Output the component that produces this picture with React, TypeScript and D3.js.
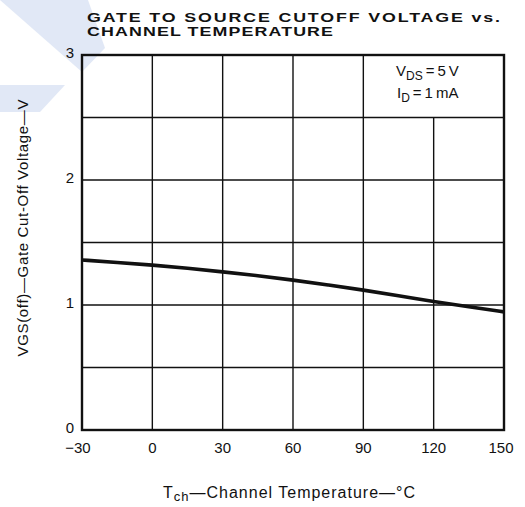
import * as d3 from 'd3';

// channel temperature (°C) vs gate cut-off voltage (V)
const temps = [-30, -15, 0, 15, 30, 45, 60, 75, 90, 105, 120, 135, 150];
const vgsOff = [1.36, 1.34, 1.32, 1.295, 1.265, 1.235, 1.2, 1.16, 1.12, 1.075, 1.027, 0.985, 0.945];

const xTicks = [-30, 0, 30, 60, 90, 120, 150];
const yTicks = [0, 1, 2, 3];
const yGrid = [0.5, 1, 1.5, 2, 2.5];

const titleLines = ['GATE TO SOURCE CUTOFF VOLTAGE vs.', 'CHANNEL TEMPERATURE'];

const W = 525;
const H = 507;
const margin = { top: 55, right: 21, bottom: 77, left: 82 };

export default function App() {
  const x = d3.scaleLinear().domain([-30, 150]).range([margin.left, W - margin.right]);
  const y = d3.scaleLinear().domain([0, 3]).range([H - margin.bottom, margin.top]);

  const line = d3
    .line<number>()
    .x((_, i) => x(temps[i]))
    .y((d) => y(d))
    .curve(d3.curveBasis);

  const font = "'Liberation Sans', Arial, sans-serif";
  const ink = '#111';
  // the scanned title uses an extended face: widen glyphs horizontally
  const stretch = 1.35;

  return (
    <svg
      width={W}
      height={H}
      style={{ position: 'absolute', left: 0, top: 0, background: '#fff' }}
      fontFamily={font}
    >
      {/* faint watermark in the corner */}
      <polygon points="0,0 88,0 105,48 82,72" fill="#e1e8f6" />
      <polygon points="0,85 65,85 40,112 0,112" fill="#e1e8f6" />

      {/* title */}
      <g transform={`translate(87,22) scale(${stretch},1)`}>
        <text x={0} y={0} fontSize={13.2} fontWeight="bold" fill={ink} textLength={413 / stretch} lengthAdjust="spacing">
          {titleLines[0]}
        </text>
      </g>
      <g transform={`translate(87,36) scale(${stretch},1)`}>
        <text x={0} y={0} fontSize={13.2} fontWeight="bold" fill={ink} textLength={246 / stretch} lengthAdjust="spacing">
          {titleLines[1]}
        </text>
      </g>

      {/* grid */}
      {yGrid.map((v) => (
        <line key={'h' + v} x1={x(-30)} x2={x(150)} y1={y(v)} y2={y(v)} stroke={ink} strokeWidth={1.4} />
      ))}
      {xTicks.slice(1, -1).map((t) => (
        <line
          key={'v' + t}
          x1={x(t)}
          x2={x(t)}
          y1={y(0)}
          y2={t === 120 ? y(2.5) : y(3)}
          stroke={ink}
          strokeWidth={1.4}
        />
      ))}

      {/* frame */}
      <rect
        x={x(-30)}
        y={y(3)}
        width={x(150) - x(-30)}
        height={y(0) - y(3)}
        fill="none"
        stroke={ink}
        strokeWidth={2.4}
      />

      {/* curve */}
      <path d={line(vgsOff) ?? ''} fill="none" stroke={ink} strokeWidth={3.6} />

      {/* conditions */}
      <text x={396} y={76} fontSize={15} fill={ink}>
        V<tspan fontSize={12} dy={4}>DS</tspan>
        <tspan dy={-4}>{'\u2009=\u20095\u2009V'}</tspan>
      </text>
      <text x={397} y={98} fontSize={15} fill={ink}>
        I<tspan fontSize={12} dy={4}>D</tspan>
        <tspan dy={-4}>{'\u2009=\u20091\u2009mA'}</tspan>
      </text>

      {/* y tick labels */}
      {yTicks.map((v) => (
        <text key={'yl' + v} x={74} y={y(v)} dy={3} fontSize={15} textAnchor="end" fill={ink}>
          {v}
        </text>
      ))}

      {/* x tick labels */}
      {xTicks.map((t, i) => (
        <text
          key={'xl' + t}
          x={x(t) + (i === 0 ? -4 : i === xTicks.length - 1 ? -3 : 0)}
          y={453}
          fontSize={15}
          textAnchor="middle"
          fill={ink}
        >
          {t < 0 ? '\u2212' + Math.abs(t) : t}
        </text>
      ))}

      {/* axis titles */}
      <text x={163} y={498} fontSize={16} fill={ink} textLength={252} lengthAdjust="spacing">
        T<tspan fontSize={13} dy={3}>ch</tspan>
        <tspan dy={-3}>{'\u2014Channel Temperature\u2014\u00b0C'}</tspan>
      </text>
      <text
        transform={`translate(28,${228}) rotate(-90)`}
        fontSize={15}
        textAnchor="middle"
        fill={ink}
        textLength={257}
        lengthAdjust="spacing"
      >
        VGS(off)—Gate Cut-Off Voltage—V
      </text>
    </svg>
  );
}
